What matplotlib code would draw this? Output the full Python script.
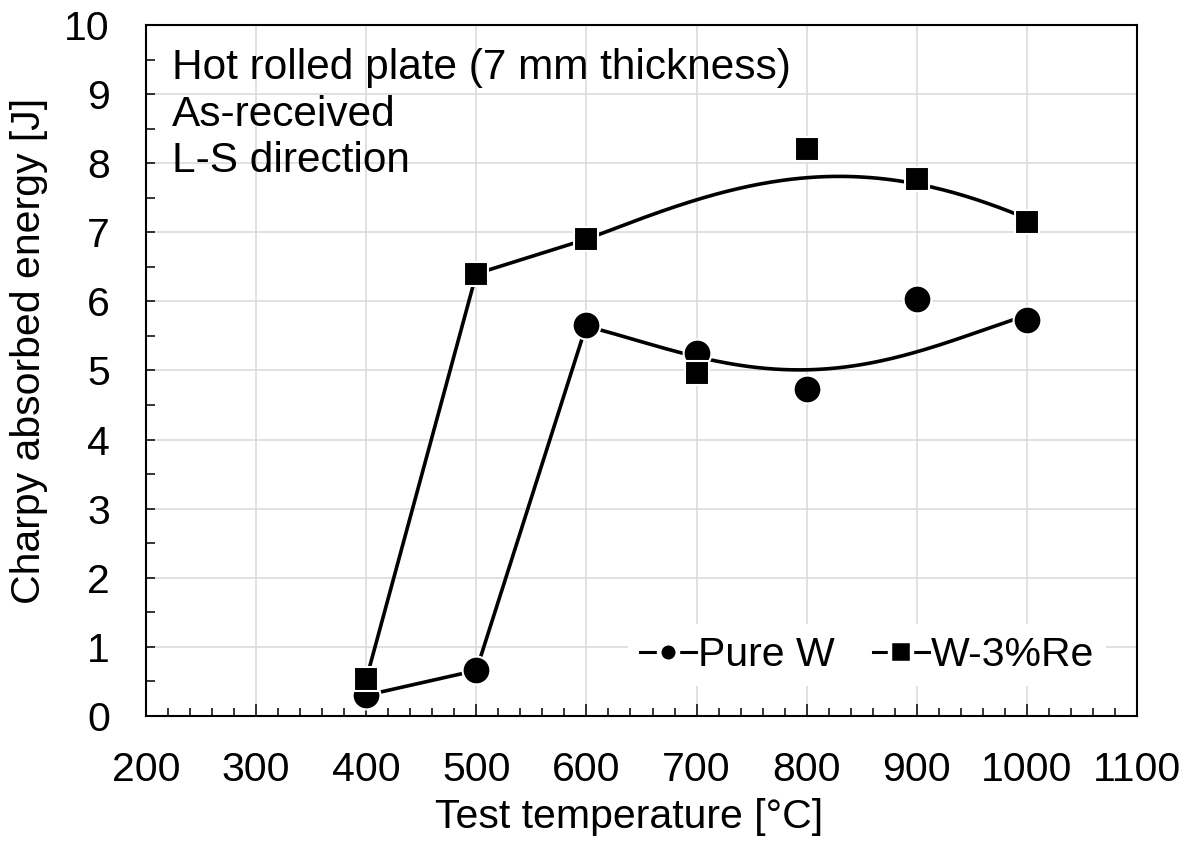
import numpy as np
import matplotlib
matplotlib.use("Agg")
import matplotlib.pyplot as plt
from matplotlib.lines import Line2D
from matplotlib.ticker import MultipleLocator

plt.rcParams['font.family'] = ['Liberation Sans', 'DejaVu Sans']

# ---- data ----
temps = [400, 500, 600, 700, 800, 900, 1000]
pure_w = [0.30, 0.66, 5.66, 5.26, 4.73, 6.03, 5.73]
w_re = [0.53, 6.40, 6.90, 4.96, 8.21, 7.77, 7.15]

# straight connecting segments (400-600 °C)
seg_temps = [400, 500, 600]
pure_w_seg = [0.30, 0.66, 5.66]
w_re_seg = [0.53, 6.40, 6.90]

# smooth trend curves (600-1000 °C)
trend_temps = [600, 700, 800, 900, 1000]
pure_w_trend = [5.64, 5.20, 5.01, 5.27, 5.80]
w_re_trend = [6.90, 7.47, 7.79, 7.70, 7.20]

x_ticks = [200, 300, 400, 500, 600, 700, 800, 900, 1000, 1100]
y_ticks = [0, 1, 2, 3, 4, 5, 6, 7, 8, 9, 10]

annotation = "Hot rolled plate (7 mm thickness)\nAs-received\nL-S direction"

FS = 29.5

fig = plt.figure(figsize=(11.92, 8.48), dpi=100)
ax = fig.add_axes([146/1192, 1 - 716/848, (1137-146)/1192, (716-25)/848])

ax.set_xlim(200, 1100)
ax.set_ylim(0, 10)
ax.set_xticks(x_ticks)
ax.set_yticks(y_ticks)
ax.xaxis.set_minor_locator(MultipleLocator(20))
ax.yaxis.set_minor_locator(MultipleLocator(0.5))
ax.grid(True, which='major', color='#d9d9d9', linewidth=1.1, zorder=0)
ax.set_axisbelow(True)

for s in ax.spines.values():
    s.set_linewidth(1.5)
    s.set_color('black')

ax.tick_params(axis='x', which='major', direction='in', length=8.5, width=1.1,
               labelsize=FS, pad=25)
ax.tick_params(axis='x', which='minor', direction='in', length=5.5, width=1.1)
ax.tick_params(axis='y', which='both', direction='in', length=6.5, width=1.1,
               labelsize=FS, pad=26)

lw = 2.6
# fitted smooth curves
xs = np.linspace(trend_temps[0], trend_temps[-1], 200)
for tr in (pure_w_trend, w_re_trend):
    c = np.polyfit(trend_temps, tr, 4)
    ax.plot(xs, np.polyval(c, xs), color='black', lw=lw, zorder=3,
            solid_capstyle='butt')

# Pure W
ax.plot(seg_temps, pure_w_seg, color='black', lw=lw, zorder=3)
ax.plot(temps, pure_w, linestyle='none', marker='o', ms=20,
        mfc='black', mec='white', mew=1.5, zorder=4)
# W-3%Re
ax.plot(seg_temps, w_re_seg, color='black', lw=lw, zorder=5)
ax.plot(temps, w_re, linestyle='none', marker='s', ms=17,
        mfc='black', mec='white', mew=1.5, zorder=6)

ax.text(0.026, 0.966, annotation, transform=ax.transAxes, fontsize=30.5,
        va='top', ha='left', linespacing=1.2, zorder=7)

ax.set_xlabel("Test temperature [°C]", fontsize=FS)
ax.xaxis.set_label_coords((629-146)/991, -(798-716)/691)
ax.set_ylabel("Charpy absorbed energy [J]", fontsize=FS)
ax.yaxis.set_label_coords(-(146-48)/991, (716-351)/691)

handles = [Line2D([], [], color='black', lw=2.2, marker='o', ms=13.5,
                  mec='white', mew=3.4),
           Line2D([], [], color='black', lw=2.2, marker='s', ms=15.5,
                  mec='white', mew=3.2)]
leg = ax.legend(handles, ["Pure W", "W-3%Re"], loc='center right',
                bbox_to_anchor=(1.0, (716-655)/691), ncol=2, fontsize=FS,
                frameon=True, facecolor='white', edgecolor='none', framealpha=1,
                handlelength=1.35, handletextpad=0.05, columnspacing=0.95,
                borderpad=0.3, borderaxespad=0.75)
leg.set_zorder(8)

fig.savefig("out.png", dpi=100)
